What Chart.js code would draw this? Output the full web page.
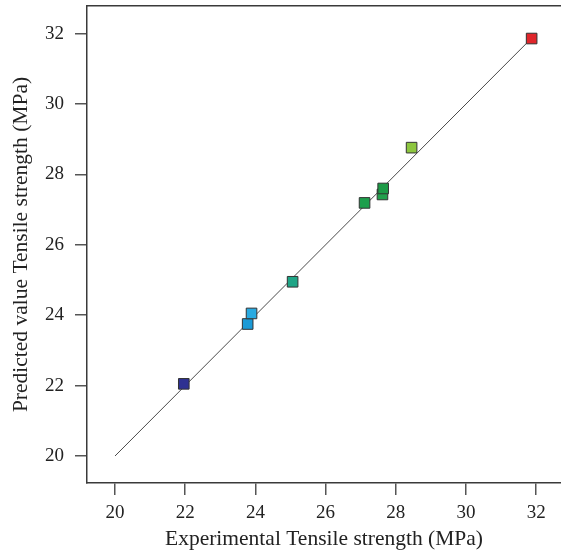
<!DOCTYPE html>
<html>
<head>
<meta charset="utf-8">
<script src="https://cdn.jsdelivr.net/npm/chart.js@4.4.0/dist/chart.umd.min.js"></script>
<style>
    html, body { margin: 0; padding: 0; background: #fff; }
    #wrap { width: 561px; height: 556px; }
</style>
</head>
<body>
<div id="wrap"><canvas id="plot" width="561" height="556"></canvas></div>
<script>
// measured vs predicted tensile strength (MPa)
const experimental = [21.96, 23.78, 23.89, 25.06, 27.11, 27.62, 27.64, 28.45, 31.87];
const predicted = [22.05, 23.75, 24.05, 24.95, 27.19, 27.43, 27.6, 28.76, 31.86];
const pointColors = ['#2e3192', '#1b9ad6', '#29aae1', '#1fa586', '#1d9f4c', '#22a04c', '#1c9a46', '#8dc63f', '#e0262b'];
const fitLine = [20, 31.87];
const tickValues = [20, 22, 24, 26, 28, 30, 32];

const tickFont = { family: "'Liberation Serif', 'Times New Roman', serif", size: 19 };
const titleFont = { family: "'Liberation Serif', 'Times New Roman', serif", size: 21.5 };
const axisColor = '#3a3a3a';

const points = experimental.map((x, i) => ({ x, y: predicted[i] }));
const lineData = fitLine.map(v => ({ x: v, y: v }));

function fixTicks(scale) {
    scale.ticks = tickValues.map(v => ({ value: v }));
}

// no extra room for half-labels at the ends, plot area is fixed
function noPadding(scale) {
    scale.paddingLeft = 0;
    scale.paddingRight = 0;
    scale.paddingTop = 0;
    scale.paddingBottom = 0;
}

const ctx = document.getElementById('plot').getContext('2d');
new Chart(ctx, {
    type: 'scatter',
    data: {
        datasets: [
            {
                type: 'line',
                data: lineData,
                borderColor: '#4a4a4a',
                borderWidth: 1,
                pointRadius: 0,
                fill: false,
                order: 2
            },
            {
                data: points,
                pointStyle: 'rect',
                pointRadius: 7.5,
                backgroundColor: pointColors,
                borderColor: '#333',
                borderWidth: 1,
                order: 1
            }
        ]
    },
    options: {
        responsive: false,
        animation: false,
        layout: { autoPadding: false, padding: { top: 6, right: 0, left: 0, bottom: 0 } },
        plugins: { legend: { display: false }, tooltip: { enabled: false } },
        scales: {
            x: {
                type: 'linear',
                position: 'bottom',
                min: 19.2023,
                max: 32.7066,
                afterBuildTicks: fixTicks,
                afterFit: (s) => { s.height = 73; noPadding(s); },
                border: { display: true, color: axisColor, width: 1.5 },
                grid: { drawOnChartArea: false, drawTicks: true, tickLength: 12, tickColor: '#555', lineWidth: 1.5 },
                ticks: { font: tickFont, color: '#222', padding: 7, maxRotation: 0 },
                title: {
                    display: true,
                    text: 'Experimental Tensile strength (MPa)',
                    font: titleFont,
                    color: '#222',
                    padding: { top: 0, bottom: 4 }
                }
            },
            x2: {
                type: 'linear',
                position: 'top',
                min: 19.2023,
                max: 32.7066,
                afterFit: (s) => { s.height = 0; noPadding(s); },
                border: { display: true, color: axisColor, width: 1.5 },
                grid: { drawOnChartArea: false, drawTicks: false },
                ticks: { display: false }
            },
            y: {
                type: 'linear',
                min: 19.233,
                max: 32.784,
                afterBuildTicks: fixTicks,
                afterFit: (s) => { s.width = 87; noPadding(s); },
                border: { display: true, color: axisColor, width: 1.5 },
                grid: { drawOnChartArea: false, drawTicks: true, tickLength: 12, tickColor: '#555', lineWidth: 1.5 },
                ticks: { font: tickFont, color: '#222', padding: 11 },
                title: {
                    display: true,
                    text: 'Predicted value Tensile strength (MPa)',
                    font: titleFont,
                    color: '#222',
                    padding: { top: 8, bottom: 0 }
                }
            }
        }
    }
});
</script>
</body>
</html>
